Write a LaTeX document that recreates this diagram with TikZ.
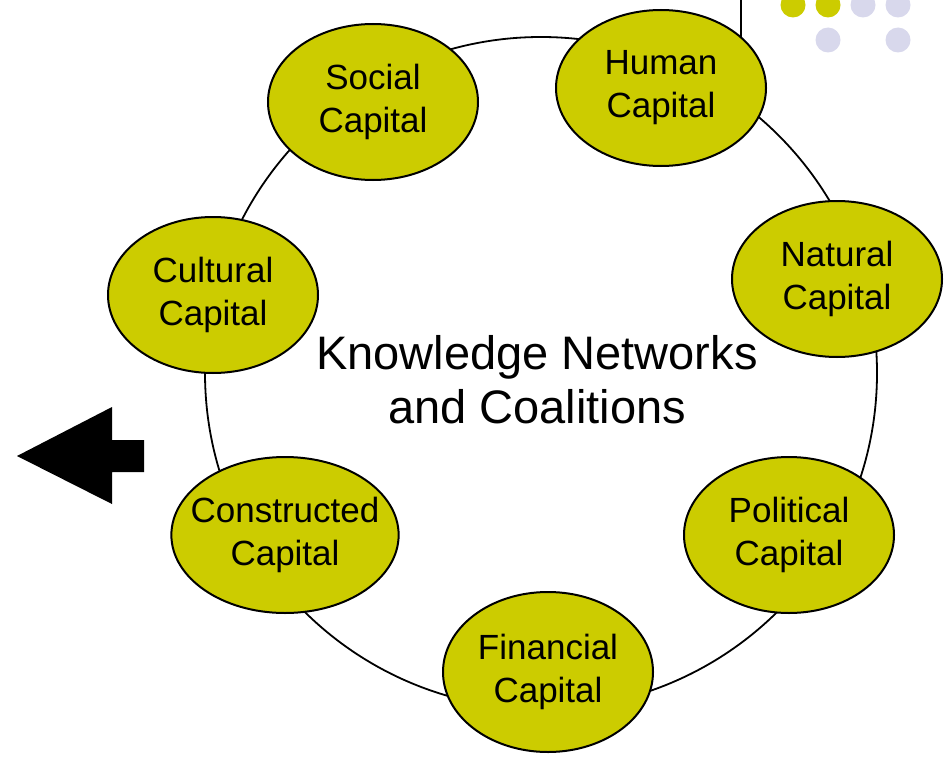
\documentclass[tikz,border=0pt]{standalone}
\usepackage{fontspec}
\setmainfont{Liberation Sans}
\usetikzlibrary{shapes.geometric}
\definecolor{olivey}{HTML}{CCCC00}
\definecolor{lav}{HTML}{D8D8EC}
\begin{document}
\begin{tikzpicture}[x=1pt,y=-1pt,
  capnode/.style={ellipse,draw=black,line width=2pt,fill=olivey,inner sep=0pt,
    minimum width=210pt,minimum height=156pt,align=center,
    font=\fontsize{35}{43}\selectfont},
  dotnode/.style={circle,inner sep=0pt,minimum size=25pt}]
\useasboundingbox (0,0) rectangle (947,757);
% decoration dots
\node[dotnode,fill=olivey] (d1) at (793,5) {};
\node[dotnode,fill=olivey] (d2) at (828,5) {};
\node[dotnode,fill=lav] (d3) at (863,5) {};
\node[dotnode,fill=lav] (d4) at (898,5) {};
\node[dotnode,fill=lav] (d5) at (828,40) {};
\node[dotnode,fill=lav] (d6) at (898,40) {};
\draw[line width=2pt] (741,-2) -- (741,60);
% ring
\draw[line width=1.8pt] (541,373) circle (336);
% centre label
\node[align=center,font=\fontsize{47}{54}\selectfont] (kn) at (537,380) {Knowledge Networks\\and Coalitions};
% capitals
\node[capnode] (social) at (373,102) {Social\\Capital};
\node[capnode] (human) at (661,88) {Human\\Capital};
\node[capnode] (natural) at (837,279) {Natural\\Capital};
\node[capnode] (cultural) at (213,295) {Cultural\\Capital};
\node[capnode,minimum width=226pt,inner xsep=-14pt] (constructed) at (285,535) {Constructed\\Capital};
\node[capnode] (political) at (789,535) {Political\\Capital};
\node[capnode,minimum height=160pt] (financial) at (548,672) {Financial\\Capital};
% left arrow
\fill (17,456) -- (112,407) -- (112,440) -- (144,440) -- (144,472) -- (112,472) -- (112,504) -- cycle;
\end{tikzpicture}
\end{document}
